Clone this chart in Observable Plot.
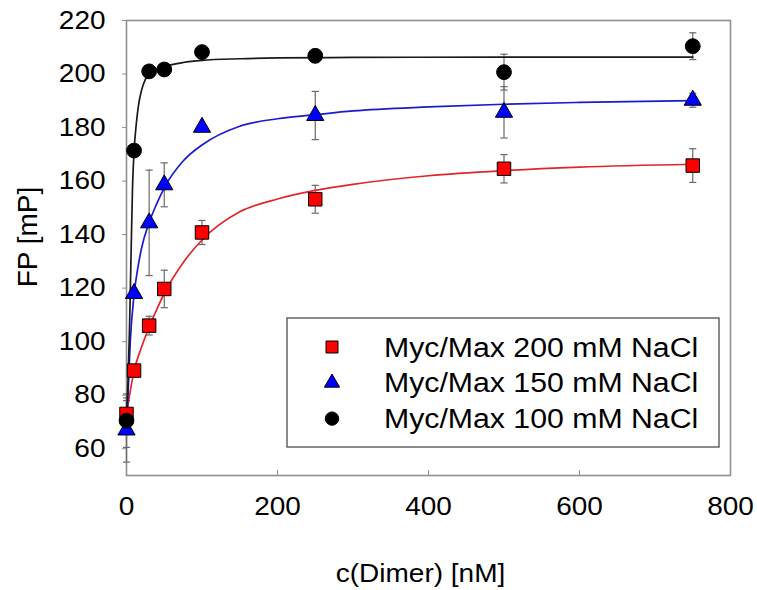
<!DOCTYPE html>
<html><head><meta charset="utf-8">
<script src="https://cdn.jsdelivr.net/npm/d3@7"></script>
<script src="https://cdn.jsdelivr.net/npm/@observablehq/plot@0.6"></script>
<style>
html,body{margin:0;padding:0;background:#fff;}
#chart{position:relative;width:757px;height:590px;}
</style></head><body><div id="chart"></div>
<script>
// ---- data ----
const conc = [0, 10, 30, 50, 100, 250, 500, 750];

const fp200  = [73, 89.2, 106, 119.7, 140.8, 153.2, 164.6, 165.8];
const err200 = [5, 1.5, 3.5, 7, 4.5, 5.2, 5.3, 6.3];

const fp150  = [67, 118, 144.4, 158.6, 180.1, 184.5, 185.7, 190.2];
const err150 = [12, 1.5, 19.7, 8.2, 1, 9, 9.6, 2.6];

const fp100  = [70.5, 171.4, 201, 201.7, 208.2, 206.8, 200.7, 210.4];
const err100 = [10, 1, 1.5, 1, 1, 2.5, 6.7, 5];

// fitted curves
const fitX200 = [0, 5, 10, 20, 30, 40, 50, 75, 100, 150, 200, 250, 300, 400, 500, 600, 750];
const fitY200 = [73, 81.5, 89, 98, 105.5, 112, 118, 129.5, 138, 148.5, 153.3, 156.5, 158.8, 162, 163.9, 165.2, 166.3];

const fitX150 = [0, 2, 5, 10, 15, 20, 30, 40, 50, 75, 100, 150, 200, 250, 300, 400, 500, 600, 750];
const fitY150 = [67, 80, 100, 117.5, 127.5, 135, 144.5, 151.5, 157.5, 167.5, 173.5, 180.5, 183.3, 184.8, 186.2, 187.7, 188.7, 189.4, 190.1];

const fitX100 = [0, 2, 4, 6, 8, 10, 13, 16, 20, 25, 30, 40, 50, 75, 100, 150, 200, 300, 500, 750];
const fitY100 = [71, 85, 105, 132, 158, 171, 181.5, 188.5, 194, 198, 200, 201.8, 202.8, 204.3, 205.1, 205.7, 206, 206.2, 206.3, 206.3];

const xTicks = [0, 200, 400, 600, 800];
const yTicks = [60, 80, 100, 120, 140, 160, 180, 200, 220];

const seriesNames   = ["Myc/Max 200 mM NaCl", "Myc/Max 150 mM NaCl", "Myc/Max 100 mM NaCl"];
const seriesFill    = ["#ff0000", "#0000ff", "#000000"];
const seriesLine    = ["#e0262b", "#1a1ad0", "#1a1a1a"];
const seriesSymbol  = ["square", "triangle", "circle"];
const seriesR       = [7.6, 6.4, 7.4];

const xLabel = "c(Dimer) [nM]";
const yLabel = "FP [mP]";

// ---- tables built from the arrays ----
const fpAll  = [fp200, fp150, fp100];
const errAll = [err200, err150, err100];
const fitXAll = [fitX200, fitX150, fitX100];
const fitYAll = [fitY200, fitY150, fitY100];

const points = seriesNames.map((s, i) => conc.map((c, j) => ({series: s, x: c, y: fpAll[i][j], err: errAll[i][j]})));
const fits = seriesNames.map((s, i) => fitXAll[i].map((x, j) => ({series: s, x, y: fitYAll[i][j]})));

const cap = {draw(ctx, size) { const h = Math.sqrt(size / Math.PI); ctx.moveTo(-h, 0); ctx.lineTo(h, 0); }};
const errColor = "#6a6a6a";

const marks = [
  Plot.frame({stroke: "#8f8f8f", strokeWidth: 1.6}),
  Plot.axisY(yTicks, {tickSize: 4, text: null, label: null, stroke: "#8f8f8f"}),
  Plot.axisY(yTicks, {tickSize: 0, tickPadding: 21, label: null, fontSize: 25}),
  Plot.axisX(xTicks, {tickSize: -5, text: null, label: null, stroke: "#8f8f8f"}),
  Plot.axisX(xTicks, {tickSize: 0, tickPadding: 22, label: null, fontSize: 25}),
];
points.forEach(p => {
  marks.push(Plot.ruleX(p, {x: "x", y1: d => d.y - d.err, y2: d => d.y + d.err, stroke: errColor, strokeWidth: 1.2}));
  marks.push(Plot.dot(p, {x: "x", y: d => d.y + d.err, symbol: cap, r: 3.6, stroke: errColor, fill: "none", strokeWidth: 1.2}));
  marks.push(Plot.dot(p, {x: "x", y: d => d.y - d.err, symbol: cap, r: 3.6, stroke: errColor, fill: "none", strokeWidth: 1.2}));
});
fits.forEach((f, i) => {
  marks.push(Plot.line(f, {x: "x", y: "y", stroke: seriesLine[i], strokeWidth: 1.7, curve: "monotone-x"}));
});
points.forEach((p, i) => {
  marks.push(Plot.dot(p, {x: "x", y: "y", symbol: seriesSymbol[i], r: seriesR[i], fill: seriesFill[i], stroke: "#000", strokeWidth: 1}));
});
marks.push(Plot.text([yLabel], {text: d => d, frameAnchor: "left", dx: -98, dy: -11, rotate: -90, textAnchor: "middle", lineAnchor: "middle", fontSize: 28}));
marks.push(Plot.text([xLabel], {text: d => d, frameAnchor: "bottom", dx: -8, dy: 98, textAnchor: "middle", lineAnchor: "middle", fontSize: 25}));

const chart = Plot.plot({
  width: 757, height: 590,
  marginLeft: 126, marginRight: 27, marginTop: 20, marginBottom: 115,
  x: {domain: [0, 800]},
  y: {domain: [50, 220]},
  style: {fontFamily: "'Liberation Sans', Arial, sans-serif", fontSize: "25px", background: "#fff", color: "#000"},
  marks
});
document.getElementById("chart").appendChild(chart);

// ---- legend box inside the plot ----
const svg = d3.select(chart);
const lg = svg.append("g").attr("class", "legend").attr("text-anchor", "start");
lg.append("rect").attr("x", 287).attr("y", 318).attr("width", 432).attr("height", 129)
  .attr("fill", "#fff").attr("stroke", "#5a5a5a").attr("stroke-width", 1.4);
const symMap = {square: d3.symbolSquare, triangle: d3.symbolTriangle, circle: d3.symbolCircle};
const legSize = [144, 100, 140];
seriesNames.forEach((name, i) => {
  const cy = 347 + i * 35.8;
  lg.append("path").attr("d", d3.symbol(symMap[seriesSymbol[i]], legSize[i])())
    .attr("transform", `translate(332,${cy})`)
    .attr("fill", seriesFill[i]).attr("stroke", "#000").attr("stroke-width", 1);
  lg.append("text").attr("x", 384).attr("y", cy + 9.5).attr("font-size", 27).attr("fill", "#000")
    .attr("text-anchor", "start").text(name);
});

// horizontal stretch of horizontal texts (reference glyphs are wider than Arial)
svg.selectAll("text").each(function() {
  const t = this;
  const tr = t.getAttribute("transform") || "";
  if (/rotate\(-90/.test(tr)) return;
  const len = t.getComputedTextLength();
  if (len > 0) {
    t.setAttribute("textLength", (len * 1.12).toFixed(1));
    t.setAttribute("lengthAdjust", "spacingAndGlyphs");
  }
});
</script></body></html>
